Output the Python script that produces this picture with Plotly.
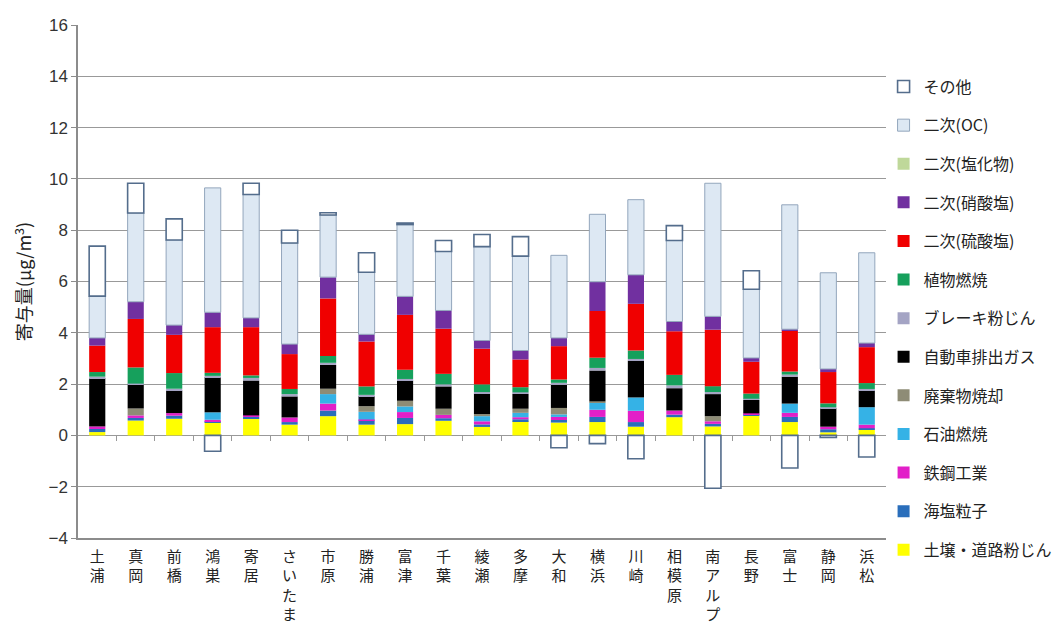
import plotly.graph_objects as go

# Monitoring stations (x categories)
stations = ["土浦", "真岡", "前橋", "鴻巣", "寄居", "さいたま", "市原", "勝浦", "富津", "千葉", "綾瀬",
            "多摩", "大和", "横浜", "川崎", "相模原", "南アルプス", "長野", "富士", "静岡", "浜松"]

# Source contributions (μg/m3), stacked bottom to top
soil      = [0.13, 0.58, 0.65, 0.52, 0.65, 0.42, 0.75, 0.42, 0.44, 0.57, 0.33, 0.56, 0.50, 0.52, 0.34, 0.71, 0.35, 0.76, 0.52, 0.12, 0.24]
seasalt   = [0.12, 0.10, 0.12, 0.04, 0.07, 0.10, 0.22, 0.17, 0.24, 0.10, 0.10, 0.07, 0.10, 0.20, 0.18, 0.10, 0.10, 0.05, 0.20, 0.12, 0.04]
steel     = [0.10, 0.10, 0.10, 0.05, 0.06, 0.18, 0.27, 0.03, 0.23, 0.13, 0.12, 0.08, 0.12, 0.28, 0.44, 0.16, 0.10, 0.05, 0.16, 0.10, 0.14]
oil       = [0.00, 0.00, 0.00, 0.29, 0.00, 0.00, 0.37, 0.30, 0.22, 0.00, 0.20, 0.17, 0.10, 0.28, 0.52, 0.00, 0.00, 0.00, 0.36, 0.00, 0.68]
waste     = [0.00, 0.27, 0.00, 0.00, 0.00, 0.00, 0.21, 0.22, 0.22, 0.24, 0.08, 0.16, 0.25, 0.05, 0.00, 0.00, 0.20, 0.00, 0.00, 0.00, 0.00]
vehicle   = [1.88, 0.94, 0.88, 1.37, 1.36, 0.82, 0.93, 0.39, 0.79, 0.87, 0.80, 0.58, 0.90, 1.20, 1.43, 0.87, 0.86, 0.52, 1.05, 0.72, 0.65]
brake     = [0.06, 0.03, 0.07, 0.05, 0.10, 0.09, 0.08, 0.05, 0.06, 0.08, 0.06, 0.06, 0.08, 0.10, 0.07, 0.11, 0.08, 0.05, 0.08, 0.04, 0.06]
plant     = [0.18, 0.63, 0.61, 0.12, 0.10, 0.20, 0.27, 0.33, 0.36, 0.41, 0.30, 0.20, 0.13, 0.40, 0.33, 0.41, 0.23, 0.20, 0.12, 0.15, 0.23]
sulfate   = [1.03, 1.89, 1.49, 1.78, 1.88, 1.36, 2.24, 1.75, 2.14, 1.76, 1.39, 1.08, 1.30, 1.82, 1.82, 1.70, 2.20, 1.24, 1.60, 1.22, 1.40]
nitrate   = [0.30, 0.67, 0.38, 0.58, 0.36, 0.39, 0.83, 0.28, 0.72, 0.71, 0.32, 0.35, 0.32, 1.14, 1.13, 0.38, 0.52, 0.15, 0.05, 0.12, 0.16]
chloride  = [0.00, 0.00, 0.00, 0.00, 0.00, 0.00, 0.00, 0.00, 0.00, 0.00, 0.00, 0.00, 0.00, 0.00, 0.00, 0.00, 0.00, 0.00, 0.00, 0.00, 0.00]
oc        = [1.63, 3.46, 3.32, 4.85, 4.81, 3.94, 2.42, 2.42, 2.80, 2.30, 3.66, 3.68, 3.22, 2.63, 2.93, 3.16, 5.19, 2.68, 4.85, 3.75, 3.52]
other     = [1.95, 1.16, 0.82, -0.62, 0.44, 0.50, 0.09, 0.76, 0.06, 0.43, 0.47, 0.76, -0.48, -0.32, -0.91, 0.58, -2.06, 0.72, -1.27, -0.08, -0.84]

y_ticks = [-4, -2, 0, 2, 4, 6, 8, 10, 12, 14, 16]

# (legend name, values, fill colour, outline colour, outline width)
series = [
    ("土壌・道路粉じん", soil,     "#FFFF00", "#FFFF00", 0),
    ("海塩粒子",         seasalt,  "#2A6EBB", "#2A6EBB", 0),
    ("鉄鋼工業",         steel,    "#E21FC8", "#E21FC8", 0),
    ("石油燃焼",         oil,      "#35B2E6", "#35B2E6", 0),
    ("廃棄物焼却",       waste,    "#8E8C76", "#8E8C76", 0),
    ("自動車排出ガス",   vehicle,  "#000000", "#000000", 0),
    ("ブレーキ粉じん",   brake,    "#A4A4C4", "#A4A4C4", 0),
    ("植物燃焼",         plant,    "#16A05C", "#16A05C", 0),
    ("二次(硫酸塩)",     sulfate,  "#F00000", "#F00000", 0),
    ("二次(硝酸塩)",     nitrate,  "#7130A0", "#7130A0", 0),
    ("二次(塩化物)",     chloride, "#BFD89A", "#BFD89A", 0),
    ("二次(OC)",         oc,       "#DDE8F3", "#93A6BC", 1),
    ("その他",           other,    "#FFFFFF", "#546D8C", 1.6),
]

labels = ["<br>".join(list(s)) for s in stations]

fig = go.Figure()
n = len(series)
for i, (name, vals, fill, edge, lw) in enumerate(series):
    fig.add_trace(go.Bar(
        x=labels, y=vals, name=name,
        marker=dict(color=fill, line=dict(color=edge, width=lw)),
        legendgroup=f"g{i}", legendrank=100 + (n - i),
    ))

# small tick marks along the zero line between stations
fig.add_trace(go.Scatter(x=[-0.5, 20.5], y=[0, 0], xaxis="x2", mode="lines",
                         line=dict(color="rgba(0,0,0,0)"), showlegend=False, hoverinfo="skip"))

font_jp = "Noto Sans CJK JP"
fig.update_layout(
    width=1057, height=622,
    margin=dict(l=78, r=171, t=25, b=84, autoexpand=False),
    paper_bgcolor="white", plot_bgcolor="white",
    barmode="relative", bargap=0.58,
    font=dict(family=font_jp, color="#222222"),
    legend=dict(
        x=0.997, xanchor="left", yref="container", y=0.888, yanchor="top",
        traceorder="grouped", tracegroupgap=14.8, maxheight=1,
        font=dict(family=font_jp, size=16, color="#222222"),
        itemwidth=30, bgcolor="rgba(0,0,0,0)",
    ),
    xaxis=dict(
        type="category", tickfont=dict(family=font_jp, size=15, color="#222222"),
        showgrid=False, ticks="", showline=True, linecolor="#8C8C8C", linewidth=1.5,
        ticklabelstandoff=4, range=[-0.5, 20.5], automargin=False,
    ),
    xaxis2=dict(
        overlaying="x", anchor="free", position=0.2, range=[-0.5, 20.5],
        tickvals=[k + 0.5 for k in range(20)], ticks="outside", ticklen=5,
        tickcolor="#999999", tickwidth=1, showticklabels=False, showgrid=False,
        showline=False, zeroline=False, automargin=False,
    ),
    yaxis=dict(
        range=[-4, 16], tickvals=y_ticks,
        ticktext=[str(v).replace("-", "\u2212") for v in y_ticks],
        tickfont=dict(family="Liberation Sans", size=17, color="#333333"),
        showgrid=True, gridcolor="#999999", gridwidth=1.4,
        zeroline=True, zerolinecolor="#999999", zerolinewidth=1.4,
        showline=True, linecolor="#8C8C8C", linewidth=1.5,
        ticks="outside", ticklen=5, tickcolor="#8C8C8C", automargin=False,
        title=dict(text="寄与量(μg/m<sup>3</sup>)", standoff=12,
                   font=dict(family=font_jp, size=18, color="#222222")),
    ),
)

fig.write_html("out.html")
